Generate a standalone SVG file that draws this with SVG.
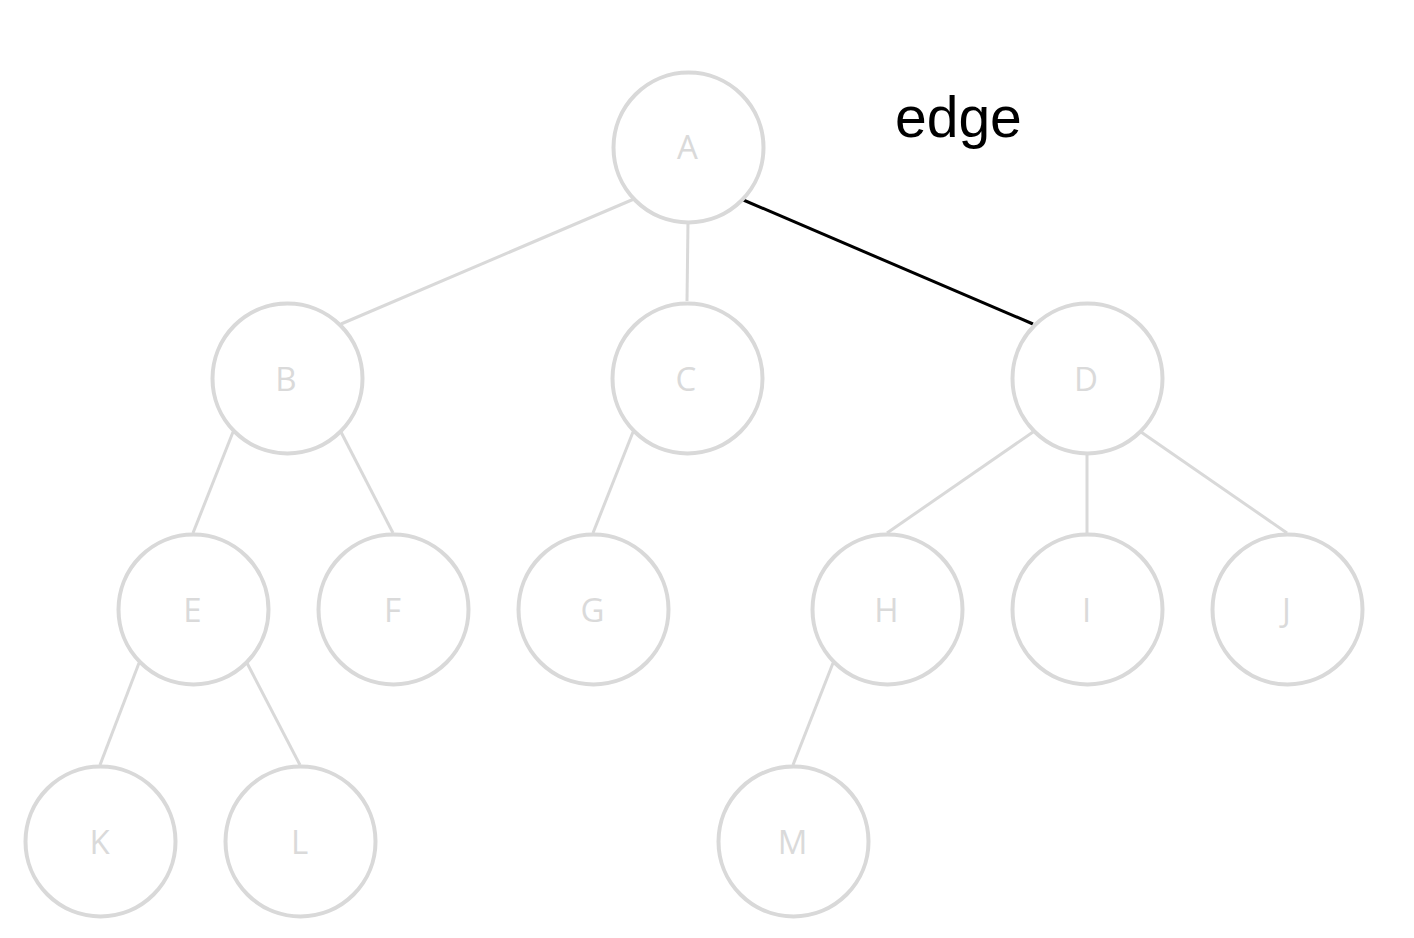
<svg xmlns="http://www.w3.org/2000/svg" width="1414" height="938" viewBox="0 0 1414 938">
<style>
.node circle{fill:#ffffff;stroke:#d9d9d9;stroke-width:4}
.node text{font-family:"Open Sans","Noto Sans","Liberation Sans",sans-serif;font-weight:400;font-size:33px;fill:#dadada;text-anchor:middle}
.edges line{stroke:#d9d9d9;stroke-width:3}
.edges line.hl{stroke:#000000;stroke-width:3}
.lbl{font-family:"Liberation Sans",Arial,sans-serif;font-size:57px;fill:#000000}
</style>
<rect width="1414" height="938" fill="#ffffff"/>
<g id="connectors" class="edges">
<line x1="634" y1="199" x2="341" y2="324"/>
<line x1="688" y1="222" x2="687" y2="301"/>
<line class="hl" x1="741" y1="199" x2="1033" y2="324"/>
<line x1="233" y1="432" x2="193" y2="533"/>
<line x1="341" y1="432" x2="393" y2="533"/>
<line x1="633" y1="432" x2="593" y2="533"/>
<line x1="1033" y1="432" x2="887" y2="533"/>
<line x1="1087" y1="455" x2="1087" y2="533"/>
<line x1="1141" y1="432" x2="1287" y2="533"/>
<line x1="139" y1="663" x2="100" y2="765"/>
<line x1="247" y1="663" x2="300" y2="765"/>
<line x1="833" y1="663" x2="793" y2="765"/>
</g>
<g id="node-A" class="node"><circle cx="688.5" cy="147.5" r="75"/><text x="687.5" y="159">A</text></g>
<g id="node-B" class="node"><circle cx="287.5" cy="378.5" r="75"/><text x="286" y="390.5">B</text></g>
<g id="node-C" class="node"><circle cx="687.5" cy="378.5" r="75"/><text x="686" y="390.5">C</text></g>
<g id="node-D" class="node"><circle cx="1087.5" cy="378.5" r="75"/><text x="1086" y="390.5">D</text></g>
<g id="node-E" class="node"><circle cx="193.5" cy="609.5" r="75"/><text x="192.5" y="621.5">E</text></g>
<g id="node-F" class="node"><circle cx="393.5" cy="609.5" r="75"/><text x="392.5" y="621.5">F</text></g>
<g id="node-G" class="node"><circle cx="593.5" cy="609.5" r="75"/><text x="592.5" y="621.5">G</text></g>
<g id="node-H" class="node"><circle cx="887.5" cy="609.5" r="75"/><text x="886.5" y="621.5">H</text></g>
<g id="node-I" class="node"><circle cx="1087.5" cy="609.5" r="75"/><text x="1086.5" y="621.5">I</text></g>
<g id="node-J" class="node"><circle cx="1287.5" cy="609.5" r="75"/><text x="1286.5" y="621.5">J</text></g>
<g id="node-K" class="node"><circle cx="100.5" cy="841.5" r="75"/><text x="99.5" y="853.5">K</text></g>
<g id="node-L" class="node"><circle cx="300.5" cy="841.5" r="75"/><text x="299.5" y="853.5">L</text></g>
<g id="node-M" class="node"><circle cx="793.5" cy="841.5" r="75"/><text x="792.5" y="853.5">M</text></g>
<text id="label-edge" class="lbl" x="895" y="137">edge</text>
</svg>
